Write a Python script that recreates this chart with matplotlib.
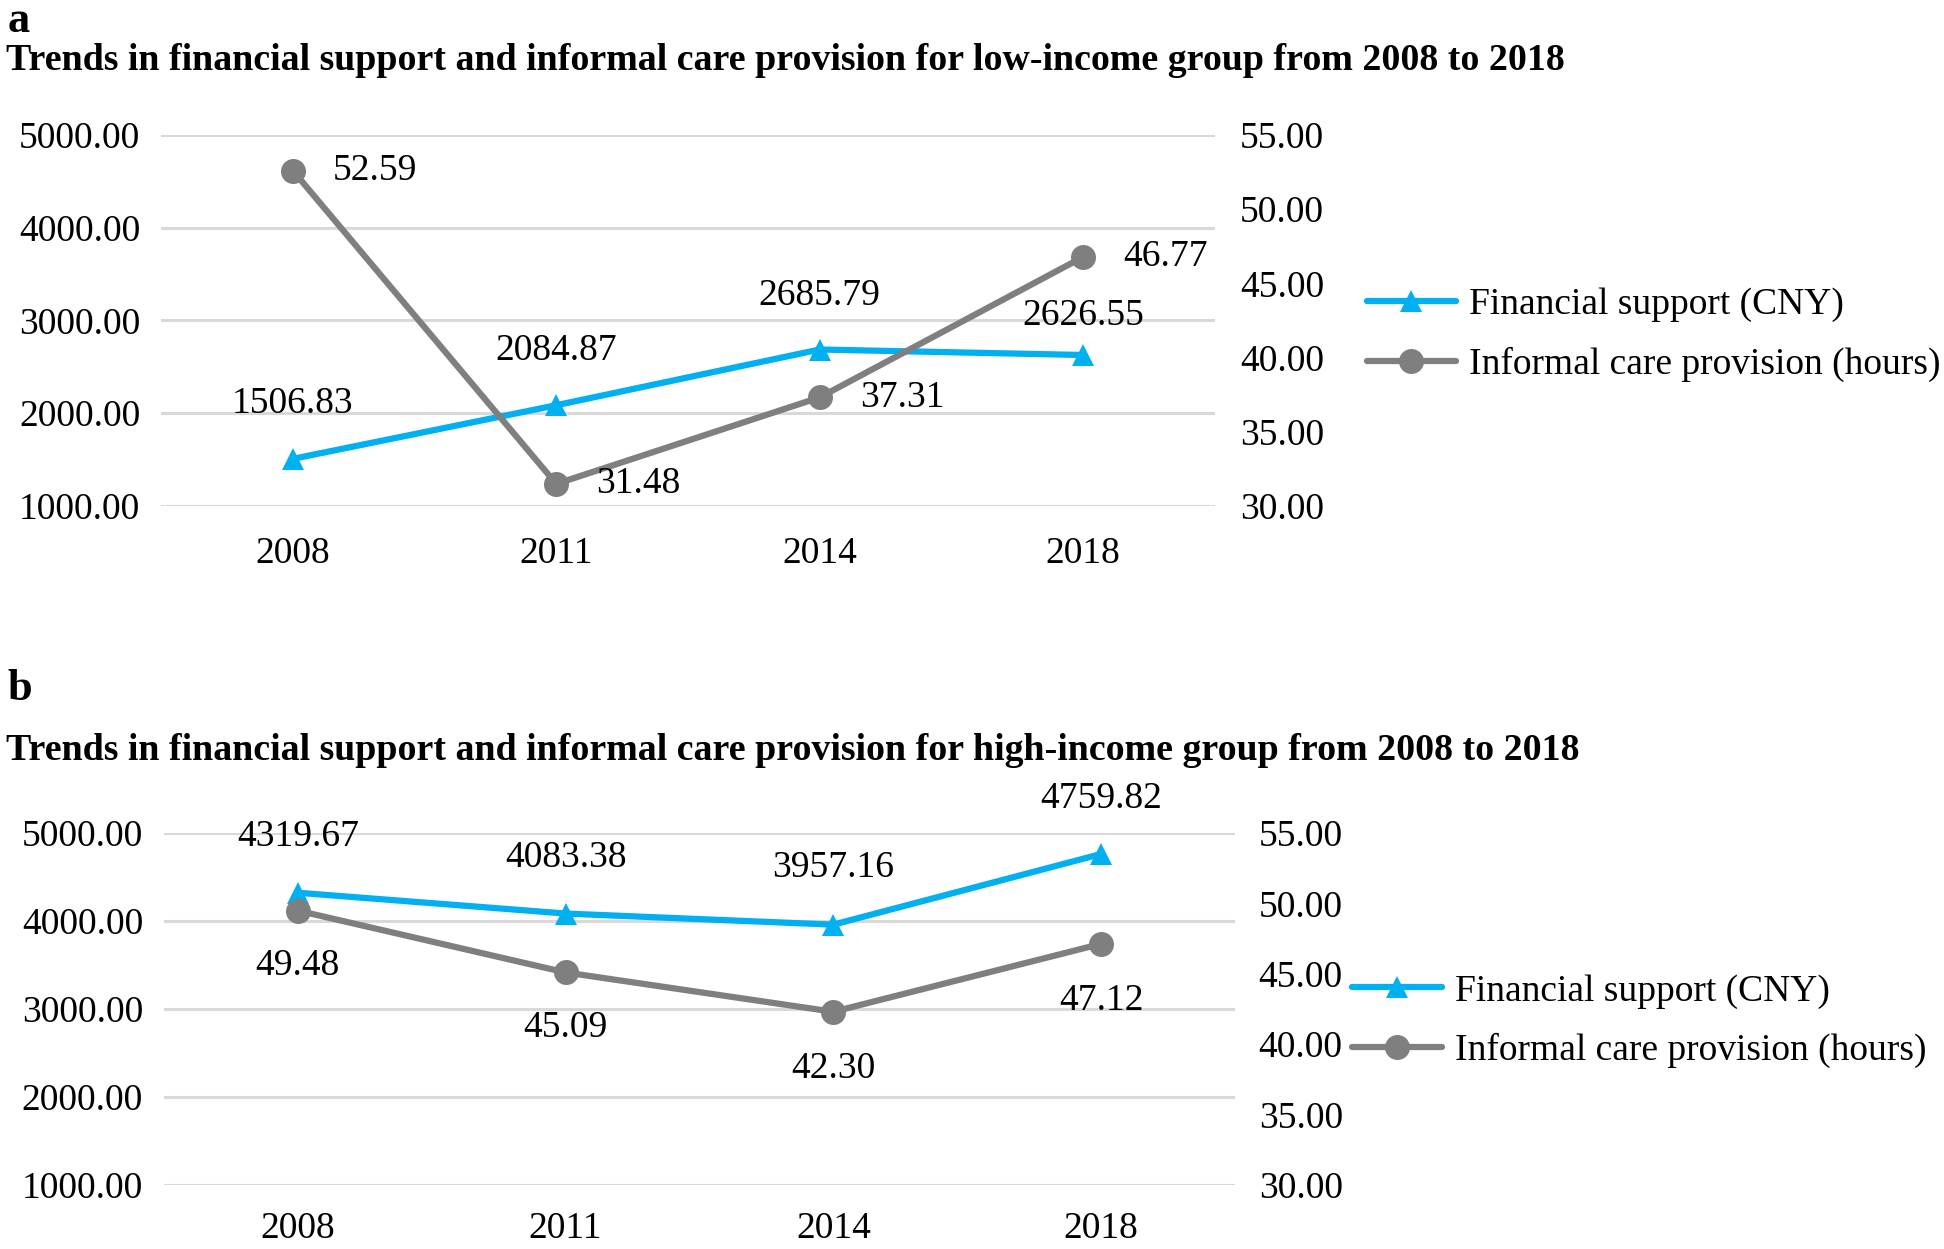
import matplotlib
matplotlib.use("Agg")
import matplotlib.pyplot as plt

plt.rcParams['font.family'] = ['Liberation Serif', 'DejaVu Serif']

years = ["2008", "2011", "2014", "2018"]
low_financial = [1506.83, 2084.87, 2685.79, 2626.55]
low_care = [52.59, 31.48, 37.31, 46.77]
high_financial = [4319.67, 4083.38, 3957.16, 4759.82]
high_care = [49.48, 45.09, 42.30, 47.12]

left_ticks = [1000, 2000, 3000, 4000, 5000]
right_ticks = [30, 35, 40, 45, 50, 55]

BLUE = "#00B0F0"
GRAY = "#7F7F7F"
GRID = "#D9D9D9"
FS = 27

fig = plt.figure(figsize=(19.44, 12.49), dpi=100)


def panel(rect, fin, care, fin_offsets, care_offsets, care_ha, legend_anchor,
          rpad, xpad):
    ax = fig.add_axes(rect)
    ax2 = ax.twinx()
    x = list(range(len(years)))
    ax.set_xlim(-0.5, len(years) - 0.5)
    ax.set_ylim(1000, 5000)
    ax2.set_ylim(30, 55)
    ax.set_yticks(left_ticks)
    ax.set_yticklabels([f"{v:.2f}" for v in left_ticks])
    ax2.set_yticks(right_ticks)
    ax2.set_yticklabels([f"{v:.2f}" for v in right_ticks])
    ax.set_xticks(x)
    ax.set_xticklabels(years)
    for a in (ax, ax2):
        for s in a.spines.values():
            s.set_visible(False)
        a.tick_params(length=0, labelsize=FS)
    ax.tick_params(axis='y', pad=15)
    ax.tick_params(axis='x', pad=xpad)
    ax2.tick_params(axis='y', pad=rpad)
    ax.grid(axis='y', color=GRID, linewidth=2.2)
    ax.set_axisbelow(True)

    l1, = ax.plot(x, fin, color=BLUE, lw=4.5, marker='^', markersize=16,
                  markeredgewidth=0, label="Financial support (CNY)",
                  zorder=3, solid_capstyle='round')
    l2, = ax2.plot(x, care, color=GRAY, lw=4.5, marker='o', markersize=18,
                   markeredgewidth=0, label="Informal care provision (hours)",
                   zorder=3, solid_capstyle='round')
    for xi, v, off in zip(x, fin, fin_offsets):
        ax.annotate(f"{v:.2f}", (xi, v), xytext=(0, off),
                    textcoords='offset points', ha='center', va='center',
                    fontsize=FS)
    for xi, v, off in zip(x, care, care_offsets):
        ax2.annotate(f"{v:.2f}", (xi, v), xytext=off,
                     textcoords='offset points', ha=care_ha, va='center',
                     fontsize=FS)
    fig.legend(handles=[l1, l2], loc='center left',
               bbox_to_anchor=legend_anchor, frameon=False, fontsize=FS,
               borderpad=0, borderaxespad=0, handlelength=2.38,
               handletextpad=0.36, labelspacing=0.65)
    return ax, ax2


panel([0.0829, 0.595, 0.542, 0.297], low_financial, low_care,
      [40, 39, 39, 28], [(29, 0)] * 4, 'left', (0.703, 0.732), 18, 22)
panel([0.0843, 0.0512, 0.551, 0.282], high_financial, high_care,
      [40, 40, 41, 40], [(0, -40), (0, -40), (0, -41), (0, -41)], 'center',
      (0.6957, 0.1824), 17, 19)

fig.text(0.004, 0.9744, "a", fontsize=32, fontweight='bold', va='baseline')
fig.text(0.003, 0.944,
         "Trends in financial support and informal care provision for low-income group from 2008 to 2018",
         fontsize=27.3, fontweight='bold', va='baseline')
fig.text(0.004, 0.4395, "b", fontsize=32, fontweight='bold', va='baseline')
fig.text(0.003, 0.3915,
         "Trends in financial support and informal care provision for high-income group from 2008 to 2018",
         fontsize=27.3, fontweight='bold', va='baseline')

fig.savefig("out.png", dpi=100)
